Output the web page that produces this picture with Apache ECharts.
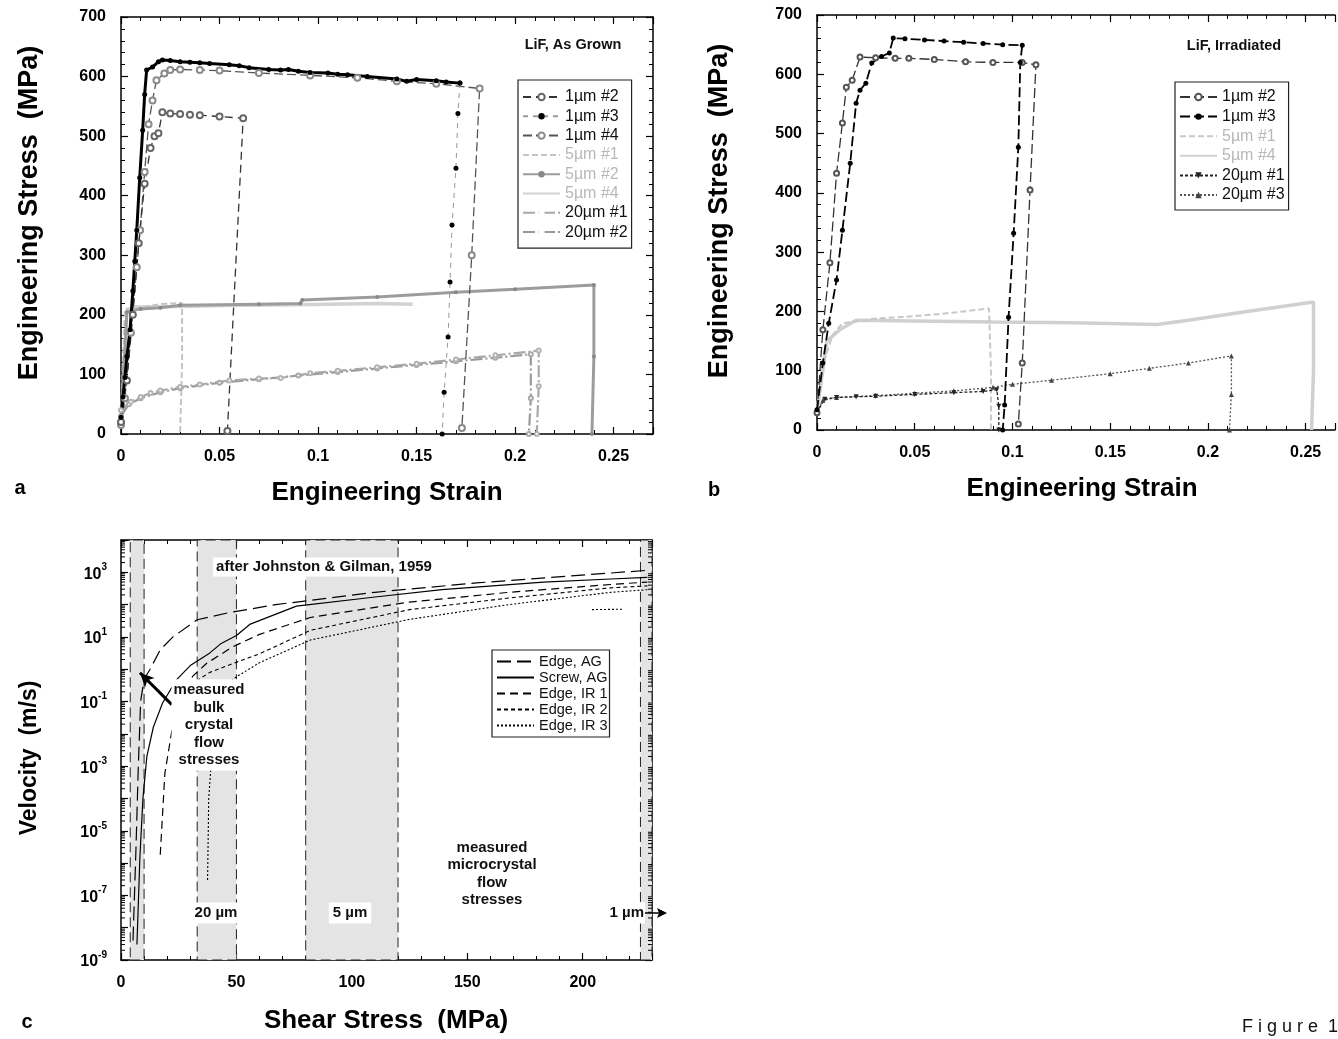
<!DOCTYPE html>
<html><head><meta charset="utf-8">
<script src="https://cdn.jsdelivr.net/npm/echarts@6/dist/echarts.min.js"></script>
<style>html,body{margin:0;padding:0;background:#fff}#c{width:1338px;height:1039px}</style>
</head><body><div id="c"></div>
<script>
// ---------------- Panel a : LiF, As Grown (strain, stress MPa) ----------------
const a_1um2 = [[0,20],[0.003,90],[0.006,200],[0.009,320],[0.012,420],[0.015,480],[0.017,500],[0.019,505],[0.021,540],[0.025,538],[0.03,537],[0.035,536],[0.04,535],[0.05,533],[0.062,530],[0.054,5]];
const a_1um3_load = [[0,28],[0.001,62],[0.002,95],[0.003,130],[0.0046,175],[0.006,240],[0.007,290],[0.008,342],[0.0095,430],[0.011,510],[0.012,570],[0.013,611],[0.016,616],[0.019,625],[0.021,628],[0.025,627],[0.03,625],[0.035,624],[0.04,623],[0.045,622],[0.055,620],[0.06,618],[0.065,615],[0.075,612],[0.081,611],[0.085,612],[0.09,609],[0.096,607],[0.105,606],[0.11,604],[0.115,603],[0.125,600],[0.14,596],[0.145,592],[0.15,595],[0.16,593],[0.165,591],[0.172,589]];
const a_1um3_drop = [[0.172,589],[0.171,538],[0.170,446],[0.168,351],[0.167,255],[0.166,163],[0.164,70],[0.163,0]];
const a_1um4 = [[0,15],[0.002,60],[0.005,170],[0.008,280],[0.0097,342],[0.012,440],[0.014,520],[0.016,560],[0.018,594],[0.022,605],[0.025,611],[0.03,612],[0.04,611],[0.05,610],[0.07,606],[0.096,602],[0.12,598],[0.14,592],[0.16,588],[0.182,580],[0.178,300],[0.173,10]];
const a_5um1 = [[0,30],[0.002,210],[0.01,212],[0.02,218],[0.031,220],[0.031,120],[0.030,0]];
const a_5um2 = [[0,20],[0.003,205],[0.01,210],[0.02,212],[0.03,216],[0.07,218],[0.091,219],[0.092,225],[0.13,230],[0.17,238],[0.2,243],[0.24,250],[0.24,130],[0.239,0]];
const a_5um4 = [[0.005,213],[0.03,214],[0.06,216],[0.09,217],[0.13,219],[0.148,218]];
const a_20um1 = [[0,40],[0.005,54],[0.01,62],[0.015,69],[0.02,73],[0.03,79],[0.04,83],[0.055,90],[0.07,93],[0.081,94],[0.096,102],[0.11,106],[0.13,112],[0.15,118],[0.17,125],[0.19,132],[0.212,140],[0.212,80],[0.211,0]];
const a_20um2 = [[0,30],[0.004,50],[0.01,60],[0.02,70],[0.03,77],[0.05,86],[0.07,92],[0.09,98],[0.11,104],[0.13,110],[0.15,116],[0.17,122],[0.19,128],[0.208,134],[0.208,60],[0.207,0]];

// ---------------- Panel b : LiF, Irradiated ----------------
const b_1um2 = [[0,29],[0.003,169],[0.0066,282],[0.010,433],[0.013,518],[0.015,578],[0.018,590],[0.022,629],[0.03,628],[0.04,627],[0.047,627],[0.06,625],[0.076,621],[0.09,620],[0.105,620],[0.112,616],[0.109,405],[0.105,113],[0.103,10]];
const b_1um3 = [[0,34],[0.003,113],[0.006,180],[0.010,253],[0.013,337],[0.017,450],[0.020,551],[0.022,573],[0.025,585],[0.028,619],[0.033,630],[0.037,636],[0.039,661],[0.045,660],[0.055,658],[0.065,656],[0.075,654],[0.085,652],[0.095,650],[0.105,649],[0.104,620],[0.103,477],[0.1006,332],[0.098,190],[0.096,42],[0.095,0]];
const b_5um1 = [[0,40],[0.004,120],[0.008,160],[0.013,180],[0.03,188],[0.05,192],[0.07,198],[0.088,205],[0.089,100],[0.089,0]];
const b_5um4 = [[0,30],[0.005,150],[0.012,170],[0.02,185],[0.05,184],[0.09,182],[0.13,181],[0.174,178],[0.19,185],[0.22,200],[0.254,216],[0.254,100],[0.253,0]];
const b_20um1 = [[0,30],[0.004,52],[0.01,55],[0.02,56],[0.03,57],[0.05,60],[0.07,63],[0.085,65],[0.092,68],[0.093,40],[0.093,0]];
const b_20um3 = [[0,30],[0.003,50],[0.01,55],[0.03,58],[0.05,62],[0.07,66],[0.09,72],[0.1,77],[0.12,84],[0.15,95],[0.17,104],[0.19,113],[0.212,125],[0.212,60],[0.211,0]];

// ---------------- Panel c : velocity (m/s) vs shear stress (MPa) ----------------
const c_edgeAG = [[5.2,4e-9],[6.5,3e-6],[7.5,1e-3],[8.5,0.1],[10,0.5],[12.6,1],[17,4],[22.5,10],[33,34],[46,55],[67,100],[111,245],[154,470],[212,950],[228,1150]];
const c_screwAG = [[6.9,3e-9],[8.2,1.6e-6],[9.5,1e-4],[11.2,2e-3],[14,0.016],[18,0.09],[24,0.47],[30,1.3],[38.5,3.2],[43,6],[50,11],[56,25],[76,90],[111,175],[139,290],[183,500],[212,620],[228,700]];
const c_edgeIR1 = [[17,1.8e-6],[19,6e-4],[22,0.012],[26,0.12],[31,0.6],[37,1.5],[48.5,5],[60,12],[82,40],[125,120],[168,240],[212,420],[228,500]];
const c_edgeIR2 = [[29,0.2],[33,0.45],[38.5,0.8],[48.5,1.5],[60,3],[82,16],[125,70],[168,160],[212,330],[228,380]];
const c_edgeIR3 = [[37.5,3e-7],[38,1e-4],[40,0.01],[43,0.15],[48.5,0.5],[60,1.6],[82,8],[125,35],[168,100],[212,240],[228,290]];
const c_edgeIR3b = [[204,70],[217,72]];
const c_bands = [[4,10],[33,50],[80,120],[225,230]];
const c_arrowFrom = [22,0.08];
const c_arrowTo = [8.2,0.78];

const FONT = "'Liberation Sans', Arial, sans-serif";
const chart = echarts.init(document.getElementById('c'), null, {renderer:'canvas'});

function linAxis(grid, pos, min, max, interval, labels, fmt) {
  return {
    type:'value', gridIndex:grid, position:pos, min:min, max:max, interval:interval,
    axisLine:{show:true, onZero:false, lineStyle:{color:'#000', width:1.5}},
    axisTick:{show:true, inside:true, length:7, lineStyle:{color:'#000', width:1.2}},
    minorTick:{show:true, splitNumber:5, length:4, lineStyle:{color:'#000', width:1}},
    splitLine:{show:false},
    axisLabel:{show:labels, margin:15, color:'#000', fontFamily:FONT, fontWeight:'bold', fontSize:16, formatter:fmt, showMaxLabel:true}
  };
}
const strainFmt = function(v){
  const k = v / 0.05;
  if (Math.abs(k - Math.round(k)) > 1e-6) return '';
  return v === 0 ? '0' : String(+v.toFixed(2));
};

const xAxis = [
  linAxis(0,'bottom',0,0.27,0.05,true,strainFmt),
  linAxis(0,'top',0,0.27,0.05,false),
  linAxis(1,'bottom',0,0.265,0.05,true,strainFmt),
  linAxis(1,'top',0,0.265,0.05,false),
  linAxis(2,'bottom',0,230,50,true),
  linAxis(2,'top',0,230,50,false)
];
xAxis[4].axisLabel.formatter = v => (v % 50 === 0 ? String(v) : '');

function logAxis(pos, labels) {
  return {
    type:'log', logBase:10, gridIndex:2, position:pos, min:1e-9, max:1e4, interval:1,
    axisLine:{show:true, onZero:false, lineStyle:{color:'#000', width:1.5}},
    axisTick:{show:true, inside:true, length:7, lineStyle:{color:'#000', width:1.2}},
    minorTick:{show:false},
    splitLine:{show:false},
    axisLabel:{show:labels, margin:14, color:'#000', fontFamily:FONT,
      formatter: function(v){
        const e = Math.round(Math.log10(v));
        if (Math.abs(e) % 2 !== 1) return '';
        return '{b|10}{s|' + e + '}';
      },
      rich:{
        b:{fontFamily:FONT, fontWeight:'bold', fontSize:16, color:'#000', lineHeight:20, verticalAlign:'bottom'},
        s:{fontFamily:FONT, fontWeight:'bold', fontSize:10, color:'#000', lineHeight:20, verticalAlign:'top', padding:[0,0,10,0]}
      }
    }
  };
}
const yAxis = [
  linAxis(0,'left',0,700,100,true),
  linAxis(0,'right',0,700,100,false),
  linAxis(1,'left',0,700,100,true),
  logAxis('left', true),
  logAxis('right', false)
];

function ser(name, data, xi, yi, o) {
  return Object.assign({
    name:name, type:'line', data:data, xAxisIndex:xi, yAxisIndex:yi,
    animation:false, silent:true, clip:true, z:3
  }, o);
}

// log minor tick positions (axis decoration only)
const logMinorTicks = [];
for (let n = -9; n <= 3; n++) for (let k = 2; k <= 9; k++) logMinorTicks.push([0, k * Math.pow(10, n)]);

const series = [
  // panel a
  ser('a::20µm #2', a_20um2, 0, 0, {lineStyle:{color:'#9a9a9a', width:2.2, type:[12,3,2,3]}, symbol:'emptyCircle', symbolSize:4, itemStyle:{color:'#aaa', borderWidth:1}}),
  ser('a::20µm #1', a_20um1, 0, 0, {lineStyle:{color:'#a8a8a8', width:2.2, type:[12,3,2,3]}, symbol:'emptyCircle', symbolSize:4, itemStyle:{color:'#b4b4b4', borderWidth:1}}),
  ser('a::5µm #4', a_5um4, 0, 0, {lineStyle:{color:'#d2d2d2', width:3.5}, showSymbol:false, symbol:'none', itemStyle:{color:'#d2d2d2'}}),
  ser('a::5µm #1', a_5um1, 0, 0, {lineStyle:{color:'#c4c4c4', width:2, type:[6,3]}, showSymbol:false, symbol:'none', itemStyle:{color:'#c4c4c4'}}),
  ser('a::5µm #2', a_5um2, 0, 0, {lineStyle:{color:'#9c9c9c', width:3}, symbol:'circle', symbolSize:4, itemStyle:{color:'#888'}}),
  ser('a::1µm #4', a_1um4, 0, 0, {lineStyle:{color:'#555', width:1.3, type:[9,4]}, symbol:'emptyCircle', symbolSize:6, itemStyle:{color:'#8a8a8a', borderWidth:1.2}}),
  ser('a::1µm #2', a_1um2, 0, 0, {lineStyle:{color:'#333', width:1.3, type:[8,5]}, symbol:'emptyCircle', symbolSize:6, itemStyle:{color:'#666', borderWidth:1.2}}),
  ser('a::1µm #3', a_1um3_drop, 0, 0, {lineStyle:{color:'#999', width:1, type:[5,5]}, symbol:'circle', symbolSize:5, itemStyle:{color:'#000'}}),
  ser('a::1µm #3', a_1um3_load, 0, 0, {lineStyle:{color:'#000', width:3, type:'solid'}, symbol:'circle', symbolSize:5, itemStyle:{color:'#000'}}),
  // panel b
  ser('b::5µm #4', b_5um4, 2, 2, {lineStyle:{color:'#d0d0d0', width:3.5}, showSymbol:false, symbol:'none', itemStyle:{color:'#d0d0d0'}}),
  ser('b::5µm #1', b_5um1, 2, 2, {lineStyle:{color:'#c8c8c8', width:2, type:[6,3]}, showSymbol:false, symbol:'none', itemStyle:{color:'#c8c8c8'}}),
  ser('b::20µm #3', b_20um3, 2, 2, {lineStyle:{color:'#555', width:1.3, type:[2,2]}, symbol:'triangle', symbolSize:5, itemStyle:{color:'#444'}}),
  ser('b::20µm #1', b_20um1, 2, 2, {lineStyle:{color:'#222', width:1.3, type:[3,2]}, symbol:'triangle', symbolRotate:180, symbolSize:5, itemStyle:{color:'#222'}}),
  ser('b::1µm #2', b_1um2, 2, 2, {lineStyle:{color:'#333', width:1.3, type:[10,4]}, symbol:'emptyCircle', symbolSize:5, itemStyle:{color:'#555', borderWidth:1}}),
  ser('b::1µm #3', b_1um3, 2, 2, {lineStyle:{color:'#000', width:1.8, type:[10,4]}, symbol:'circle', symbolSize:5, itemStyle:{color:'#000'}}),
  // panel c
  ser('bands', [], 4, 3, {z:1, markArea:{silent:true, itemStyle:{color:'#e4e4e4', borderColor:'#222', borderWidth:1, borderType:[10,5]},
      data: c_bands.map(b => [{xAxis:b[0]},{xAxis:b[1]}])}}),
  ser('c::Edge, AG', c_edgeAG, 4, 3, {lineStyle:{color:'#000', width:1.2, type:[14,6]}, showSymbol:false, symbol:'none', itemStyle:{color:'#000'},
      markLine:{silent:true, symbol:['none','arrow'], symbolSize:[10,14], label:{show:false}, lineStyle:{color:'#000', width:3, type:'solid'},
        data:[[{coord:c_arrowFrom},{coord:c_arrowTo}]]}}),
  ser('c::Screw, AG', c_screwAG, 4, 3, {lineStyle:{color:'#000', width:1.2, type:'solid'}, showSymbol:false, symbol:'none', itemStyle:{color:'#000'}}),
  ser('c::Edge, IR 1', c_edgeIR1, 4, 3, {lineStyle:{color:'#000', width:1.2, type:[8,5]}, showSymbol:false, symbol:'none', itemStyle:{color:'#000'}}),
  ser('c::Edge, IR 2', c_edgeIR2, 4, 3, {lineStyle:{color:'#000', width:1.1, type:[4,3]}, showSymbol:false, symbol:'none', itemStyle:{color:'#000'}}),
  ser('c::Edge, IR 3', c_edgeIR3, 4, 3, {lineStyle:{color:'#000', width:1.1, type:[2,2]}, showSymbol:false, symbol:'none', itemStyle:{color:'#000'}}),
  ser('c::Edge, IR 3', c_edgeIR3b, 4, 3, {lineStyle:{color:'#000', width:1.1, type:[2,2]}, showSymbol:false, symbol:'none', itemStyle:{color:'#000'}}),
  {type:'custom', name:'logticks', xAxisIndex:4, yAxisIndex:3, data:logMinorTicks, silent:true, animation:false, clip:false, z:5,
    encode:{x:0, y:1},
    renderItem:function(params, api){
      const v = api.value(1);
      const p0 = api.coord([0, v]), p1 = api.coord([230, v]);
      return {type:'group', children:[
        {type:'line', shape:{x1:p0[0], y1:p0[1], x2:p0[0]+4, y2:p0[1]}, style:{stroke:'#000', lineWidth:1}},
        {type:'line', shape:{x1:p1[0]-4, y1:p1[1], x2:p1[0], y2:p1[1]}, style:{stroke:'#000', lineWidth:1}}
      ]};
    }}
];

const noSym = {color:'rgba(0,0,0,0)', borderColor:'rgba(0,0,0,0)', borderWidth:0};
function legend(prefix, items, left, top, fs, lh, gap, pad) {
  return {
    show:true, orient:'vertical', left:left, top:top, selectedMode:false,
    borderColor:'#222', borderWidth:1.2, padding:pad, itemGap:gap,
    itemWidth:37, itemHeight:8, backgroundColor:'#fff',
    textStyle:{fontFamily:FONT, fontSize:fs, lineHeight:lh, color:'#111'},
    formatter: n => n.split('::')[1],
    data: items.map(it => {
      const d = {name: prefix + '::' + it[0], textStyle:{color: it[1], fontSize:fs, lineHeight:lh, fontFamily:FONT}};
      if (it[2]) d.itemStyle = noSym;
      return d;
    })
  };
}

const lightTxt = '#b8b8b8';
const annFont = 'bold 15px ' + FONT;
const option = {
  backgroundColor:'#fff',
  animation:false,
  grid:[
    {left:121, top:17, width:532, height:417, containLabel:false},
    {left:817, top:15, width:521, height:415, containLabel:false},
    {left:121, top:540, width:531, height:420, containLabel:false}
  ],
  xAxis:xAxis, yAxis:yAxis, series:series,
  legend:[
    legend('a', [['1µm #2','#111'],['1µm #3','#111'],['1µm #4','#111'],['5µm #1',lightTxt,1],['5µm #2',lightTxt],['5µm #4',lightTxt,1],['20µm #1','#111',1],['20µm #2','#111',1]], 518, 80, 16, 16, 3.3, [9,4,8,4]),
    legend('b', [['1µm #2','#111'],['1µm #3','#111'],['5µm #1',lightTxt,1],['5µm #4',lightTxt,1],['20µm #1','#111'],['20µm #3','#111']], 1175, 82, 16, 16, 3.6, [7,4,7,4]),
    legend('c', [['Edge, AG','#111',1],['Screw, AG','#111',1],['Edge, IR 1','#111',1],['Edge, IR 2','#111',1],['Edge, IR 3','#111',1]], 492, 650, 14.5, 14, 1, [4,2,4,4])
  ],
  graphic:[
    // axis titles
    {type:'text', x:30, y:213, rotation:Math.PI/2, z:100, style:{text:'Engineering Stress  (MPa)', font:'bold 27px '+FONT, fill:'#000', align:'center', verticalAlign:'middle'}},
    {type:'text', x:387, y:493, z:100, style:{text:'Engineering Strain', font:'bold 26px '+FONT, fill:'#000', align:'center', verticalAlign:'middle'}},
    {type:'text', x:720, y:211, rotation:Math.PI/2, z:100, style:{text:'Engineering Stress  (MPa)', font:'bold 27px '+FONT, fill:'#000', align:'center', verticalAlign:'middle'}},
    {type:'text', x:1082, y:489, z:100, style:{text:'Engineering Strain', font:'bold 26px '+FONT, fill:'#000', align:'center', verticalAlign:'middle'}},
    {type:'text', x:30, y:758, rotation:Math.PI/2, z:100, style:{text:'Velocity  (m/s)', font:'bold 23px '+FONT, fill:'#000', align:'center', verticalAlign:'middle'}},
    {type:'text', x:386, y:1021, z:100, style:{text:'Shear Stress  (MPa)', font:'bold 26px '+FONT, fill:'#000', align:'center', verticalAlign:'middle'}},
    // panel letters
    {type:'text', x:20, y:488, z:100, style:{text:'a', font:'bold 20px '+FONT, fill:'#000', align:'center', verticalAlign:'middle'}},
    {type:'text', x:714, y:490, z:100, style:{text:'b', font:'bold 20px '+FONT, fill:'#000', align:'center', verticalAlign:'middle'}},
    {type:'text', x:27, y:1022, z:100, style:{text:'c', font:'bold 20px '+FONT, fill:'#000', align:'center', verticalAlign:'middle'}},
    {type:'text', x:1290, y:1027, z:100, style:{text:'F i g u r e  1', font:'18px '+FONT, fill:'#111', align:'center', verticalAlign:'middle'}},
    // panel titles
    {type:'text', x:573, y:45, z:100, style:{text:'LiF, As Grown', font:'bold 14.5px '+FONT, fill:'#111', align:'center', verticalAlign:'middle'}},
    {type:'text', x:1234, y:46, z:100, style:{text:'LiF, Irradiated', font:'bold 14.5px '+FONT, fill:'#111', align:'center', verticalAlign:'middle'}},
    // panel c annotations
    {type:'text', x:324, y:567, z:100, style:{text:'after Johnston & Gilman, 1959', font:annFont, fill:'#111', align:'center', verticalAlign:'middle', backgroundColor:'#fff', padding:[2,3]}},
    {type:'text', x:209, y:725, z:100, style:{text:'measured\nbulk\ncrystal\nflow\nstresses', font:annFont, lineHeight:17.5, fill:'#111', align:'center', verticalAlign:'middle', backgroundColor:'#fff', padding:[2,2]}},
    {type:'text', x:216, y:913, z:100, style:{text:'20 µm', font:annFont, fill:'#111', align:'center', verticalAlign:'middle', backgroundColor:'#fff', padding:[3,2]}},
    {type:'text', x:350, y:913, z:100, style:{text:'5 µm', font:annFont, fill:'#111', align:'center', verticalAlign:'middle', backgroundColor:'#fff', padding:[3,4]}},
    {type:'text', x:492, y:874, z:100, style:{text:'measured\nmicrocrystal\nflow\nstresses', font:annFont, lineHeight:17.5, fill:'#111', align:'center', verticalAlign:'middle'}},
    {type:'text', x:645, y:913, z:100, style:{text:'1 µm', font:annFont, fill:'#111', align:'right', verticalAlign:'middle', backgroundColor:'#fff', padding:[3,1]}},
    {type:'line', z:100, shape:{x1:645, y1:913, x2:660, y2:913}, style:{stroke:'#000', lineWidth:1.5}},
    {type:'polygon', z:100, shape:{points:[[657,908],[667,913],[657,918],[659,913]]}, style:{fill:'#000'}}
  ]
};
chart.setOption(option);
</script></body></html>
